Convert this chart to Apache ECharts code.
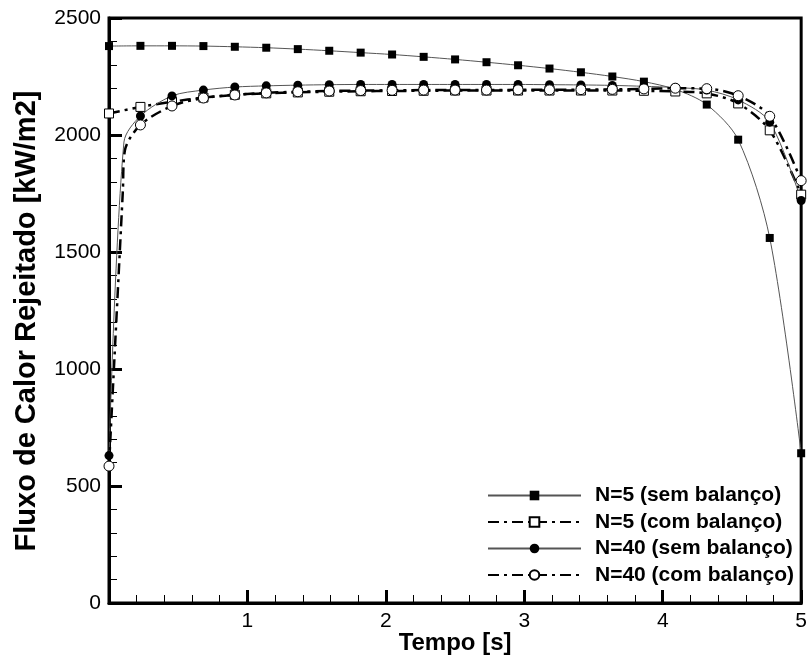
<!DOCTYPE html>
<html>
<head>
<meta charset="utf-8">
<script src="https://cdn.jsdelivr.net/npm/echarts@6/dist/echarts.min.js"></script>
<style>
html,body{margin:0;padding:0;background:#fff;}
#chart{width:810px;height:661px;}
</style>
</head>
<body>
<div id="chart"></div>
<script>
// ---- data ----
var markerTimes = [0,0.227,0.455,0.682,0.909,1.136,1.364,1.591,1.818,2.045,2.273,2.5,2.727,2.955,3.182,3.409,3.636,3.864,4.091,4.318,4.545,4.773,5];

var n5SemT = [0,0.227,0.455,0.682,0.909,1.136,1.364,1.591,1.818,2.045,2.273,2.5,2.727,2.955,3.182,3.409,3.636,3.864,4.091,4.318,4.545,4.773,5];
var n5SemV = [2380,2381,2381,2380,2377,2373,2367,2360,2352,2344,2334,2323,2311,2298,2284,2268,2250,2228,2195,2130,1980,1560,640];

var n5ComT = [0,0.227,0.455,0.682,0.909,1.136,1.364,1.591,1.818,2.045,2.273,2.5,2.727,2.955,3.182,3.409,3.636,3.864,4.091,4.318,4.545,4.773,5];
var n5ComV = [2092,2120,2142,2160,2172,2178,2182,2185,2187,2188,2189,2190,2190,2190,2190,2190,2190,2189,2186,2178,2135,2020,1745];

var n40SemT = [0,0.108,0.227,0.455,0.682,0.909,1.136,1.364,1.591,1.818,2.045,2.273,2.5,2.727,2.955,3.182,3.409,3.636,3.864,4.091,4.318,4.545,4.773,5];
var n40SemV = [630,1970,2081,2167,2192,2205,2210,2213,2215,2216,2216,2216,2216,2216,2216,2215,2214,2212,2208,2203,2192,2150,2055,1720];

var n40ComT = [0,0.1,0.115,0.227,0.455,0.682,0.909,1.136,1.364,1.591,1.818,2.045,2.273,2.5,2.727,2.955,3.182,3.409,3.636,3.864,4.091,4.318,4.545,4.773,5];
var n40ComV = [585,1760,1935,2043,2124,2158,2171,2180,2185,2188,2190,2191,2192,2192,2192,2193,2193,2194,2195,2197,2200,2198,2168,2080,1805];

var seriesNames = ['N=5 (sem balanço)','N=5 (com balanço)','N=40 (sem balanço)','N=40 (com balanço)'];
var xTicks = [0,1,2,3,4,5];
var yTicks = [0,500,1000,1500,2000,2500];
var xTitle = 'Tempo [s]';
var yTitle = 'Fluxo de Calor Rejeitado [kW/m2]';

function build(ts, vs) {
  var out = [];
  for (var i = 0; i < ts.length; i++) {
    var item = {value: [ts[i], vs[i]]};
    if (markerTimes.indexOf(ts[i]) < 0) item.symbol = 'none';
    out.push(item);
  }
  return out;
}

var FONT = 'Liberation Sans, Arial, sans-serif';
var dashDot = [11,5,3,5];

var chart = echarts.init(document.getElementById('chart'), null, {renderer:'canvas'});
chart.setOption({
  animation: false,
  backgroundColor: '#fff',
  grid: {left:109, right:4, top:18, bottom:58, show:true, borderColor:'#000', borderWidth:3, backgroundColor:'transparent'},
  graphic: [{
    type:'text', rotation: Math.PI/2,
    x: 12, y: 321,
    style: {text: yTitle, font: 'bold 29px Liberation Sans, Arial, sans-serif', fill:'#000', textAlign:'center', textVerticalAlign:'top'}
  }],
  legend: {
    orient: 'vertical', left: 482, top: 480,
    itemWidth: 93, itemHeight: 12, itemGap: 5.5,
    data: seriesNames,
    textStyle: {fontFamily: FONT, fontSize: 21, fontWeight: 'bold', color:'#000', padding:[0,0,0,9]}
  },
  xAxis: {
    type:'value', min: xTicks[0], max: xTicks[xTicks.length-1], interval: 1,
    name: xTitle, nameLocation: 'middle', nameGap: 28, nameMoveOverlap: false,
    nameTextStyle: {fontFamily: FONT, fontSize: 24, fontWeight:'bold', color:'#000'},
    axisLine: {show:true, onZero:false, lineStyle:{color:'#000', width:3}},
    axisTick: {show:true, inside:true, length:13, lineStyle:{color:'#000', width:3}},
    minorTick: {show:true, splitNumber:5, length:8, lineStyle:{color:'#000', width:1}},
    axisLabel: {showMinLabel:false, fontFamily: FONT, fontSize:21, color:'#000', margin:8},
    splitLine: {show:false}
  },
  yAxis: {
    type:'value', min: yTicks[0], max: yTicks[yTicks.length-1], interval: 500,
    axisLine: {show:true, onZero:false, lineStyle:{color:'#000', width:3}},
    axisTick: {show:true, inside:true, length:13, lineStyle:{color:'#000', width:3}},
    minorTick: {show:true, splitNumber:5, length:8, lineStyle:{color:'#000', width:1}},
    axisLabel: {fontFamily: FONT, fontSize:21, color:'#000', margin:8, formatter: function(v){ return String(v); }},
    splitLine: {show:false}
  },
  series: [
    {
      name: seriesNames[0], type:'line', data: build(n5SemT, n5SemV), smooth:0.3,
      symbol:'rect', symbolSize:8,
      lineStyle:{color:'#555', width:1, type:'solid'},
      itemStyle:{color:'#000', borderColor:'#000', borderWidth:0}
    },
    {
      name: seriesNames[1], type:'line', data: build(n5ComT, n5ComV), smooth:0.3,
      symbol:'rect', symbolSize:9,
      lineStyle:{color:'#000', width:2.5, type:dashDot},
      itemStyle:{color:'#fff', borderColor:'#000', borderWidth:1}
    },
    {
      name: seriesNames[2], type:'line', data: build(n40SemT, n40SemV), smooth:0.3,
      symbol:'circle', symbolSize:9,
      lineStyle:{color:'#555', width:1, type:'solid'},
      itemStyle:{color:'#000', borderColor:'#000', borderWidth:0}
    },
    {
      name: seriesNames[3], type:'line', data: build(n40ComT, n40ComV), smooth:0.3,
      symbol:'circle', symbolSize:10,
      lineStyle:{color:'#000', width:2.5, type:dashDot},
      itemStyle:{color:'#fff', borderColor:'#000', borderWidth:1}
    }
  ]
});
</script>
</body>
</html>
